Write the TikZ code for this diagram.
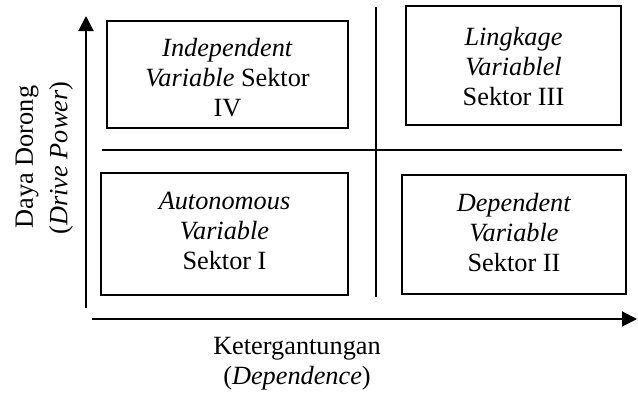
\documentclass[tikz,border=0pt]{standalone}
\usepackage{fontspec}
\setmainfont{Liberation Serif}
\usetikzlibrary{arrows.meta}
\begin{document}
\begin{tikzpicture}[x=1pt,y=-1pt,
  quad/.style={draw,line width=1.5pt,inner sep=0pt},
  lbl/.style={align=center,font=\fontsize{26.3}{30}\selectfont,inner sep=0pt},
  axis/.style={line width=2pt,-{Triangle[length=15pt,width=15pt]}},
  divider/.style={line width=2pt}]
\useasboundingbox (0,0) rectangle (638,392);
% boxes
\node[quad,minimum width=241pt,minimum height=107pt] (b4) at (227.5,74.5) {};
\node[quad,minimum width=215pt,minimum height=119pt] (b3) at (513.5,65.5) {};
\node[quad,minimum width=247pt,minimum height=122pt] (b1) at (224.5,234) {};
\node[quad,minimum width=224pt,minimum height=119pt] (b2) at (514,234.5) {};
% texts
\node[lbl] (t4) at (227.5,78) {\textit{Independent}\\\textit{Variable} Sektor\\IV};
\node[lbl] (t3) at (513.5,66) {\textit{Lingkage}\\\textit{Variablel}\\Sektor III};
\node[lbl] (t1) at (224.5,231) {\textit{Autonomous}\\\textit{Variable}\\Sektor I};
\node[lbl] (t2) at (514,232) {\textit{Dependent}\\\textit{Variable}\\Sektor II};
% dividers
\coordinate (vt) at (376,7);
\coordinate (vb) at (376,297);
\coordinate (hl) at (102,150);
\coordinate (hr) at (622,150);
\draw[divider] (vt) -- (vb);
\draw[divider] (hl) -- (hr);
% axes
\coordinate (yo) at (86,308);
\coordinate (yt) at (86,16);
\coordinate (xo) at (92,319);
\coordinate (xt) at (637,319);
\draw[axis] (yo) -- (yt);
\draw[axis] (xo) -- (xt);
% axis labels
\node[lbl,rotate=90] (ylab1) at (27,157) {Daya Dorong};
\node[lbl,rotate=90] (ylab2) at (61,158) {(\textit{Drive Power})};
\node[lbl] (xlab1) at (297,349) {Ketergantungan};
\node[lbl] (xlab2) at (297,378) {(\textit{Dependence})};
\end{tikzpicture}
\end{document}
